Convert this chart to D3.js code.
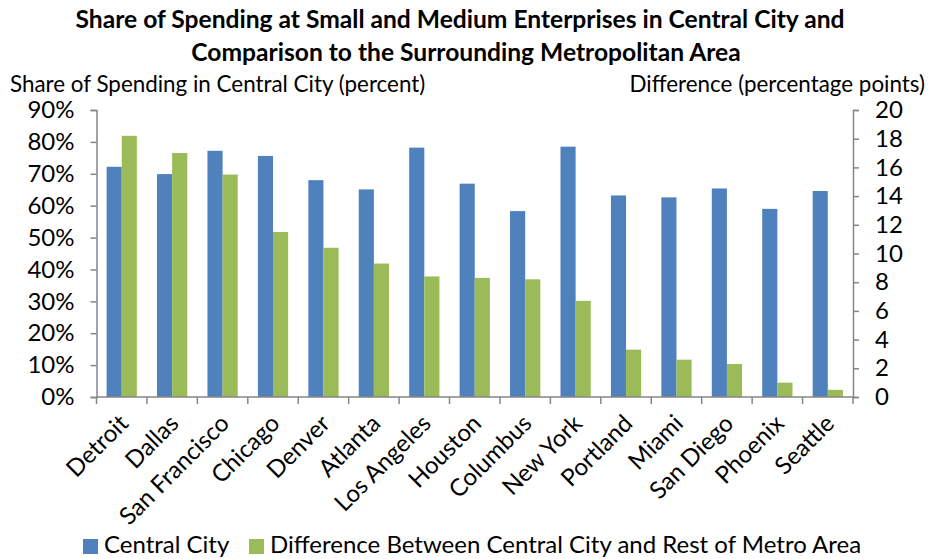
<!DOCTYPE html>
<html>
<head>
<meta charset="utf-8">
<script src="https://cdn.jsdelivr.net/npm/d3@7"></script>
<style>
  body { margin: 0; background: #fff; }
  text { font-family: Lato, "Open Sans", sans-serif; fill: #000; }
</style>
</head>
<body>
<svg id="chart" width="930" height="559"></svg>
<script>
const cities = ["Detroit", "Dallas", "San Francisco", "Chicago", "Denver", "Atlanta", "Los Angeles",
  "Houston", "Columbus", "New York", "Portland", "Miami", "San Diego", "Phoenix", "Seattle"];
// share of spending in central city, percent (left axis)
const centralCity = [72.2, 69.9, 77.2, 75.6, 68.0, 65.1, 78.2, 66.9, 58.3, 78.5, 63.2, 62.6, 65.4, 59.0, 64.6];
// difference, percentage points (right axis)
const difference = [18.2, 17.0, 15.5, 11.5, 10.4, 9.3, 8.4, 8.3, 8.2, 6.7, 3.3, 2.6, 2.3, 1.0, 0.5];
const leftTicks = [0, 10, 20, 30, 40, 50, 60, 70, 80, 90];
const rightTicks = [0, 2, 4, 6, 8, 10, 12, 14, 16, 18, 20];

const blue = "#4f81bd", green = "#9bbb59", axisGrey = "#868686";
const svg = d3.select("#chart");
const plotLeft = 96.5, plotRight = 853, plotTop = 110, plotBottom = 397;

const x = d3.scaleBand().domain(cities).range([plotLeft, plotRight]);
const yL = d3.scaleLinear().domain([0, 90]).range([plotBottom, plotTop]);
const yR = d3.scaleLinear().domain([0, 20]).range([plotBottom, plotTop]);
const barW = x.bandwidth() * 0.3;
const offset = (x.bandwidth() - 2 * barW) / 2;

// title
svg.append("text").attr("x", 460).attr("y", 28).attr("text-anchor", "middle")
  .attr("font-weight", "bold").attr("font-size", 24.6)
  .text("Share of Spending at Small and Medium Enterprises in Central City and");
svg.append("text").attr("x", 466).attr("y", 61).attr("text-anchor", "middle")
  .attr("font-weight", "bold").attr("font-size", 24.6)
  .text("Comparison to the Surrounding Metropolitan Area");

svg.append("text").attr("x", 10).attr("y", 92).attr("font-size", 22.4)
  .text("Share of Spending in Central City (percent)");
svg.append("text").attr("x", 925).attr("y", 92).attr("text-anchor", "end").attr("font-size", 22.4)
  .text("Difference (percentage points)");

// bars
svg.append("g").selectAll("rect").data(cities).join("rect")
  .attr("x", (d) => x(d) + offset)
  .attr("y", (d, i) => yL(centralCity[i]))
  .attr("width", barW)
  .attr("height", (d, i) => plotBottom - yL(centralCity[i]))
  .attr("fill", blue);
svg.append("g").selectAll("rect").data(cities).join("rect")
  .attr("x", (d) => x(d) + offset + barW)
  .attr("y", (d, i) => yR(difference[i]))
  .attr("width", barW)
  .attr("height", (d, i) => plotBottom - yR(difference[i]))
  .attr("fill", green);

// axes
const axL = svg.append("g").attr("transform", `translate(${plotLeft},0)`)
  .call(d3.axisLeft(yL).tickValues(leftTicks).tickFormat((d) => d + "%").tickSize(6).tickPadding(16));
const axR = svg.append("g").attr("transform", `translate(${plotRight},0)`)
  .call(d3.axisRight(yR).tickValues(rightTicks).tickSize(6).tickPadding(16));
[axL, axR].forEach((g) => {
  g.select(".domain").attr("stroke", axisGrey).attr("stroke-width", 1.5);
  g.selectAll(".tick line").attr("stroke", axisGrey).attr("stroke-width", 1.5);
  g.selectAll(".tick text").attr("font-size", 24).attr("font-family", "Lato, sans-serif").attr("fill", "#000");
});

const axB = svg.append("g").attr("transform", `translate(0,${plotBottom})`);
axB.append("line").attr("x1", plotLeft).attr("x2", plotRight).attr("stroke", axisGrey).attr("stroke-width", 1.5);
axB.selectAll("line.sep").data(d3.range(cities.length + 1)).join("line")
  .attr("class", "sep")
  .attr("x1", (i) => plotLeft + i * x.step()).attr("x2", (i) => plotLeft + i * x.step())
  .attr("y1", 0).attr("y2", 7).attr("stroke", axisGrey).attr("stroke-width", 1.5);
axB.selectAll("text").data(cities).join("text")
  .attr("transform", (d) => `translate(${x(d) + x.bandwidth() / 2 + 8},28) rotate(-45)`)
  .attr("text-anchor", "end").attr("font-size", 24)
  .text((d) => d);

// legend
const legend = [["Central City", blue, 83], ["Difference Between Central City and Rest of Metro Area", green, 249]];
legend.forEach(([label, color, lx]) => {
  svg.append("rect").attr("x", lx).attr("y", 539).attr("width", 15).attr("height", 15).attr("fill", color);
  svg.append("text").attr("x", lx + 21).attr("y", 553).attr("font-size", 24).text(label);
});
</script>
</body>
</html>
